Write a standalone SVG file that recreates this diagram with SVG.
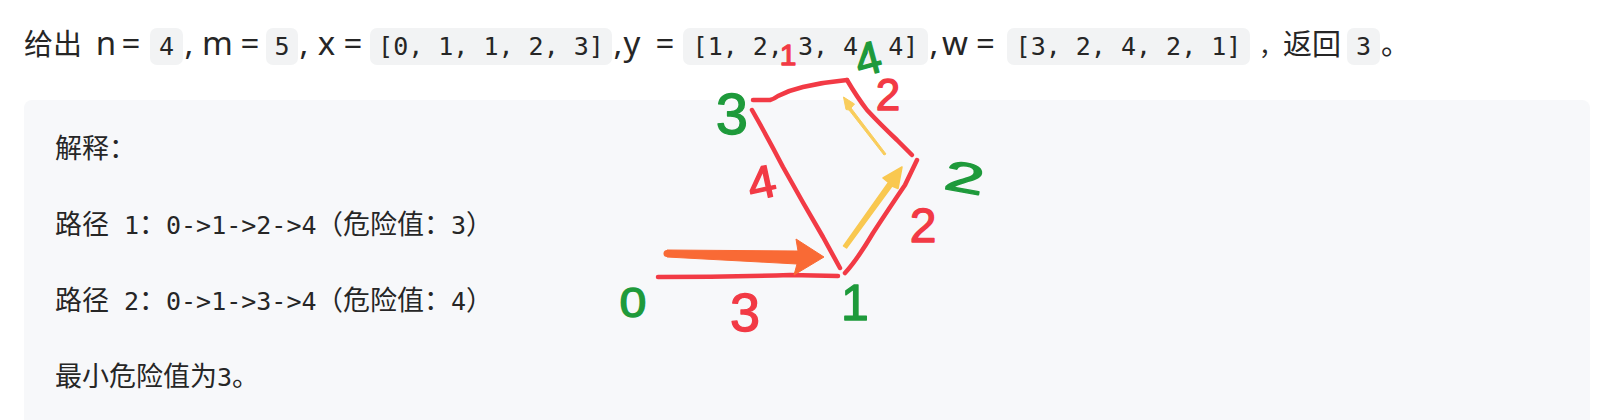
<svg xmlns="http://www.w3.org/2000/svg" width="1602" height="420" viewBox="0 0 1602 420">
<style>
.cjk{font-family:"Noto Sans CJK SC","Noto Sans",sans-serif;fill:#262626}
.lat{font-family:"Noto Sans","Liberation Sans",sans-serif;font-size:33px;fill:#262626;text-anchor:middle}
.code{font-family:"DejaVu Sans Mono","Liberation Mono",monospace;font-size:25px;fill:#262626;text-anchor:middle}
.mono{font-family:"DejaVu Sans Mono","Liberation Mono",monospace;font-size:25px;fill:#262626}
.box{fill:#f2f3f4}
.edge{fill:none;stroke:#f23a45;stroke-width:4.5;stroke-linecap:round;stroke-linejoin:round}
.w{font-family:"Liberation Sans",sans-serif;fill:#f23a45;stroke:#f23a45;stroke-width:1.3;stroke-linejoin:round;text-anchor:middle}
.n{font-family:"Liberation Sans",sans-serif;fill:#1e9a3b;stroke:#1e9a3b;stroke-width:1.3;stroke-linejoin:round;text-anchor:middle}
</style>
<rect width="1602" height="420" fill="#ffffff"/>
<rect x="24" y="100" width="1566" height="340" rx="8" fill="#f7f8fa"/>
<g id="statement">
  <rect class="box" x="150" y="28" width="33" height="37" rx="7"/>
  <rect class="box" x="266" y="28" width="32" height="37" rx="7"/>
  <rect class="box" x="370" y="28" width="242" height="37" rx="7"/>
  <rect class="box" x="683" y="28" width="245" height="37" rx="7"/>
  <rect class="box" x="1007" y="28" width="243" height="37" rx="7"/>
  <rect class="box" x="1347" y="28" width="33" height="37" rx="7"/>
  <text class="cjk" x="24" y="55" font-size="29">给出</text>
  <text class="lat" x="106" y="55">n</text>
  <text class="lat" x="131" y="55">=</text>
  <text class="code" x="166.5" y="55">4</text>
  <text class="lat" x="189" y="55">,</text>
  <text class="lat" x="217.5" y="55">m</text>
  <text class="lat" x="250" y="55">=</text>
  <text class="code" x="282" y="55">5</text>
  <text class="lat" x="304" y="55">,</text>
  <text class="lat" x="326.5" y="55">x</text>
  <text class="lat" x="353" y="55">=</text>
  <text class="code" x="491" y="55">[0, 1, 1, 2, 3]</text>
  <text class="lat" x="618" y="55">,</text>
  <text class="lat" x="632" y="55">y</text>
  <text class="lat" x="665" y="55">=</text>
  <text class="code" x="805.5" y="55">[1, 2, 3, 4, 4]</text>
  <text class="lat" x="934" y="55">,</text>
  <text class="lat" x="955" y="55">w</text>
  <text class="lat" x="985.5" y="55">=</text>
  <text class="code" x="1128.5" y="55">[3, 2, 4, 2, 1]</text>
  <text class="cjk" x="1259" y="55" font-size="24">，</text>
  <text class="cjk" x="1283" y="55" font-size="29">返回</text>
  <text class="code" x="1363.5" y="55">3</text>
  <text class="cjk" x="1381" y="55" font-size="29">。</text>
</g>
<g id="explanation">
  <text class="cjk" x="55" y="158" font-size="27">解释：</text>
  <text class="cjk" x="55" y="234" font-size="27">路径</text>
  <text class="mono" x="124" y="234">1</text>
  <text class="cjk" x="139" y="234" font-size="27">：</text>
  <text class="mono" x="166" y="234">0-&gt;1-&gt;2-&gt;4</text>
  <text class="cjk" x="316" y="234" font-size="27">（危险值：</text>
  <text class="mono" x="451" y="234">3</text>
  <text class="cjk" x="466" y="234" font-size="27">）</text>
  <text class="cjk" x="55" y="310" font-size="27">路径</text>
  <text class="mono" x="124" y="310">2</text>
  <text class="cjk" x="139" y="310" font-size="27">：</text>
  <text class="mono" x="166" y="310">0-&gt;1-&gt;3-&gt;4</text>
  <text class="cjk" x="316" y="310" font-size="27">（危险值：</text>
  <text class="mono" x="451" y="310">4</text>
  <text class="cjk" x="466" y="310" font-size="27">）</text>
  <text class="cjk" x="55" y="386" font-size="27">最小危险值为</text>
  <text class="mono" x="217" y="386">3</text>
  <text class="cjk" x="232" y="386" font-size="27">。</text>
</g>
<g id="connectors">
  <path class="edge" d="M753,100 L770,100 Q774,99 778,96 Q790,90 803,87 Q825,82 847,80"/>
  <path class="edge" d="M847,80 Q857,97 867,110 Q880,124 897,140 L912,155"/>
  <path class="edge" d="M752,110 Q768,138 783,167 Q803,203 823,237 L840,268"/>
  <path class="edge" d="M845,273 Q857,260 873,233 Q890,207 905,185 L917,160"/>
  <path class="edge" d="M658,277 Q723,277 790,275 L838,276"/>
  <text class="w" x="788" y="65" font-size="30">1</text>
  <text class="w" x="888" y="110" font-size="44">2</text>
  <text class="w" transform="translate(765,198) rotate(-12) scale(1.1,1)" font-size="46">4</text>
  <text class="w" x="923" y="242" font-size="48">2</text>
  <text class="w" x="745" y="331" font-size="54">3</text>
  <path d="M667,250 L798,251 L796,239 L824,257 L794,275 L797,264 L667,257 Z" fill="#f96a35" stroke="#f96a35" stroke-width="1" stroke-linejoin="round"/>
  <circle cx="667" cy="253.5" r="3.5" fill="#f96a35"/>
  <path d="M843.5,246 L846.5,248 L892,186 L898,188.5 L902,167 L883,178 L888.5,182.5 Z" fill="#f9c850" stroke="#f9c850" stroke-width="1.5" stroke-linejoin="round"/>
  <path d="M884,155 L886,154 L851,108 L854.5,104 L843.5,97 L846,109.5 L849,110 Z" fill="#f9cd5b" stroke="#f9cd5b" stroke-width="1" stroke-linejoin="round"/>
</g>
<g id="node-0"><text class="n" transform="translate(633,317) scale(1.15,1)" font-size="42">0</text></g>
<g id="node-1"><text class="n" x="855" y="320" font-size="50">1</text></g>
<g id="node-2"><text class="n" transform="translate(962,192) rotate(10) scale(1.7,1)" font-size="42">2</text></g>
<g id="node-3"><text class="n" x="732" y="134" font-size="58">3</text></g>
<g id="node-4"><text class="n" transform="translate(872,74) rotate(-15)" font-size="46">4</text></g>
</svg>
